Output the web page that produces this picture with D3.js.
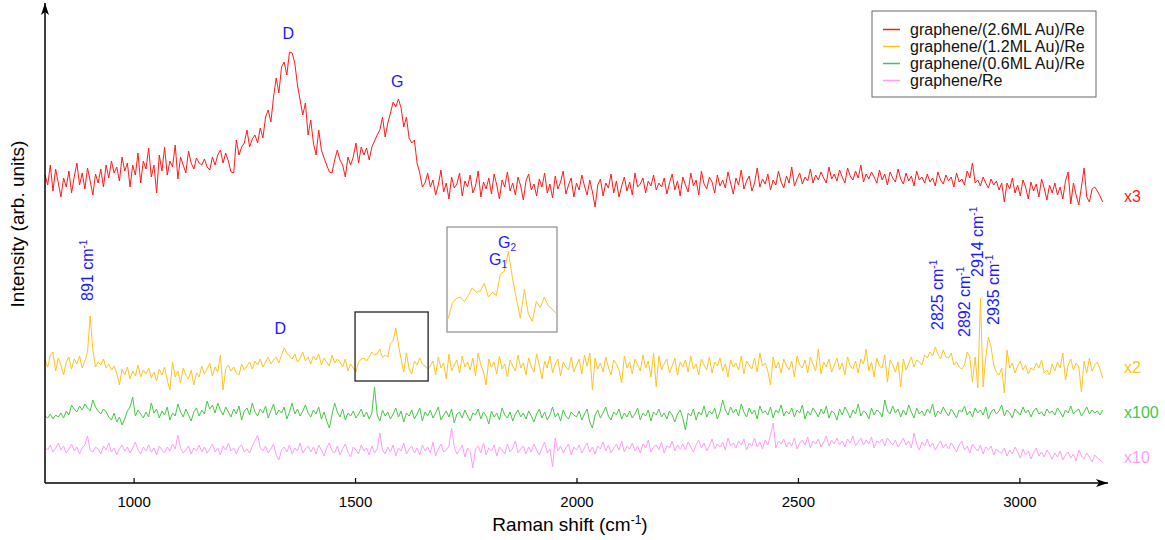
<!DOCTYPE html>
<html lang="en">
  <head>
    <meta charset="utf-8">
    <title>Raman spectra</title>
    <script src="https://d3js.org/d3.v7.min.js"></script>
    <style>
      body { margin: 0; background: #fff; }
      svg { font-family: "Liberation Sans", Arial, sans-serif; }
    </style>
  </head>
  <body>
    <script>
      // spectra sampled every 6 cm-1 starting at 800 cm-1 (stacked, arb. units)
      var shiftStart = 800;
      var shiftStep = 6;
      var xTicks = [1000, 1500, 2000, 2500, 3000];

      var seriesNames = ["graphene/(2.6ML Au)/Re", "graphene/(1.2ML Au)/Re", "graphene/(0.6ML Au)/Re", "graphene/Re"];
      var seriesFactors = ["x3", "x2", "x100", "x10"];
      var seriesColors = ["#ff1a1a", "#ffc320", "#45c845", "#ff9cf5"];

      var au26 = [
        308,298,318,292,314,300,286,305,296,312,290,306,320,298,310,294,315,302,288,309,
        300,314,296,318,305,322,310,316,302,326,312,320,296,318,308,330,300,322,314,335,
        306,318,290,328,312,336,308,322,316,338,304,326,318,310,332,320,314,325,320,318,
        324,316,313,326,318,328,333,320,330,322,311,310,343,328,336,340,353,336,344,348,
        340,355,345,366,373,361,386,405,390,416,421,408,431,430,420,398,383,368,380,348,
        363,340,328,353,333,325,318,311,310,323,333,323,318,306,326,318,326,340,320,336,
        328,335,323,336,342,348,353,366,346,360,370,381,376,384,375,356,366,345,340,343,
        320,310,296,300,310,296,303,288,298,313,291,300,284,306,295,299,310,287,302,296,
        308,290,297,312,286,301,294,305,289,309,298,284,303,296,311,292,300,288,306,297,
        283,302,309,293,299,287,304,296,310,290,299,285,307,294,301,312,289,298,305,286,
        300,293,308,297,288,303,291,276,298,304,287,300,295,309,290,302,286,297,306,292,
        301,288,310,296,299,305,290,302,297,308,293,300,296,305,289,300,309,293,302,287,
        306,298,291,310,297,303,288,312,299,294,306,301,290,308,297,303,295,311,300,289,
        305,298,313,294,302,307,292,300,315,296,304,299,309,293,303,298,312,301,295,307,
        300,316,297,304,310,299,306,302,314,300,308,303,311,305,300,316,304,309,302,313,
        306,300,315,307,303,312,305,318,301,309,304,311,306,300,313,303,309,298,311,305,
        301,314,304,299,310,302,307,297,312,303,306,300,309,301,305,297,311,303,299,308,
        302,306,296,310,301,304,298,312,305,320,300,303,297,306,300,295,304,298,302,293,
        300,281,300,294,305,290,298,287,303,296,284,301,292,299,286,304,295,283,298,290,
        300,288,296,284,302,311,279,300,288,278,296,315,286,281,294,296,292,287,281
      ];

      var au12 = [
        123,116,128,131,112,125,118,108,121,126,114,124,119,127,115,122,131,167,133,116,
        121,118,124,115,119,113,117,110,98,114,108,116,104,112,107,118,106,113,109,115,
        105,111,102,114,108,116,103,93,121,106,112,100,115,108,104,113,98,110,106,117,
        109,114,120,107,116,111,128,93,114,118,112,116,110,108,119,113,117,121,114,122,
        118,124,116,121,126,119,123,126,120,128,135,130,127,124,129,121,125,131,122,126,
        119,127,123,129,118,125,121,117,128,120,124,121,116,124,112,119,115,111,121,124,
        125,122,126,131,128,129,134,125,128,126,140,142,155,138,124,111,130,114,109,122,
        118,125,119,117,114,117,122,108,126,115,120,104,129,112,118,123,110,127,116,121,
        113,125,107,130,118,111,98,124,116,121,109,127,114,119,106,123,117,112,128,115,
        120,108,125,116,111,129,118,104,122,115,127,110,119,124,107,121,116,113,126,111,
        118,124,109,128,117,130,93,125,114,120,111,126,116,108,123,119,113,100,127,115,
        121,109,124,118,112,128,115,122,106,130,96,127,113,119,124,110,117,125,108,121,
        116,123,111,127,114,119,108,124,118,113,126,110,121,117,125,112,119,106,123,116,
        120,113,127,109,122,118,114,125,111,130,117,120,112,98,126,115,121,110,124,117,
        113,122,106,127,118,115,123,110,126,119,112,134,109,121,116,124,111,118,125,113,
        120,108,126,117,114,122,110,124,119,134,112,121,106,125,117,115,128,101,123,118,
        111,121,96,124,113,119,126,116,123,121,118,128,125,131,127,136,129,124,133,126,
        125,130,118,121,116,114,118,131,126,101,126,95,185,96,126,146,136,118,111,108,
        115,90,133,115,120,110,117,122,113,118,109,115,113,120,115,123,110,113,108,119,
        112,121,115,130,103,118,124,113,120,116,91,122,110,125,112,118,121,114,105
      ];

      var au06 = [
        67,65,69,64,68,66,70,65,72,68,78,74,71,77,73,79,75,72,83,76,
        72,69,74,71,66,63,70,61,66,58,64,72,76,86,67,73,69,65,71,66,
        80,70,74,65,72,68,76,63,70,67,79,71,66,74,68,62,71,75,67,73,
        69,82,74,78,70,80,73,68,76,71,66,74,69,77,63,72,75,68,80,71,
        67,74,70,77,65,72,79,68,73,70,76,64,71,80,69,74,67,72,78,70,
        66,73,69,76,64,71,62,55,68,80,71,66,74,63,70,67,72,65,69,74,
        66,71,64,70,96,68,62,73,67,71,64,69,75,66,72,61,70,67,73,64,
        69,75,62,71,67,73,65,70,76,63,68,72,66,74,60,69,71,65,73,67,
        62,70,68,74,64,71,67,59,72,66,70,63,75,68,65,71,62,69,73,66,
        70,64,72,67,61,69,74,65,71,63,68,76,66,70,62,73,67,64,71,68,
        66,72,63,69,74,61,55,68,73,65,70,76,67,63,71,68,74,64,70,66,
        72,65,69,75,63,70,67,73,62,71,68,74,66,70,64,72,68,61,69,73,
        65,53,70,67,74,63,71,68,77,66,72,69,75,64,71,83,73,68,76,70,
        74,67,79,71,66,75,69,73,64,77,70,72,68,76,65,73,70,78,67,72,
        69,75,66,73,70,78,64,72,68,75,71,66,74,69,77,65,72,70,63,74,
        68,76,71,65,73,69,79,67,72,70,64,75,68,73,71,66,83,72,69,77,
        70,74,66,73,68,78,71,65,75,69,72,67,74,70,79,66,72,69,76,71,
        67,74,70,65,73,71,77,68,72,66,75,70,73,68,76,64,71,74,69,72,
        78,67,73,70,65,74,71,68,76,70,73,66,72,75,69,71,67,74,70,72,
        68,75,71,66,73,70,77,69,72,74,67,71,76,69,73,70,72,68,73
      ];

      var bare = [
        36,33,38,31,35,40,33,37,30,34,39,32,36,29,35,38,47,33,31,36,
        34,29,37,33,40,31,35,28,34,38,32,36,30,35,41,33,29,36,32,38,
        31,35,28,37,33,30,36,32,39,34,48,35,30,33,37,29,35,32,38,31,
        36,30,34,39,31,35,28,37,33,40,32,35,29,36,38,31,34,30,37,42,
        48,35,32,37,30,34,39,28,23,33,36,31,38,29,35,32,40,30,34,37,
        31,36,29,38,33,27,35,40,32,30,37,28,34,39,31,26,36,33,29,38,
        32,35,28,37,30,34,50,33,29,36,31,38,27,35,32,40,29,34,37,30,
        35,28,38,32,36,30,41,27,34,39,31,33,37,55,36,29,33,38,26,35,
        31,15,34,37,30,40,28,35,32,38,27,36,33,29,39,31,35,42,30,34,
        37,29,36,31,39,33,28,35,41,30,34,16,45,32,37,30,35,39,28,36,
        33,38,30,35,40,31,36,29,37,34,41,32,38,30,35,39,33,42,31,37,
        34,40,32,37,30,39,35,43,31,36,38,33,41,30,37,35,42,32,38,34,
        39,33,41,36,31,38,43,35,40,32,37,44,34,39,36,41,33,45,37,40,
        35,42,38,44,33,40,37,45,36,41,34,43,38,48,60,35,42,39,44,36,
        41,37,45,34,40,43,38,46,35,42,39,44,36,41,47,37,43,39,45,38,
        42,36,44,40,47,37,41,45,38,43,39,46,35,42,40,44,37,45,41,38,
        43,36,40,45,38,42,35,50,39,33,41,37,44,36,40,33,38,42,35,39,
        34,40,36,31,38,42,33,37,30,39,35,32,38,29,36,33,37,28,34,31,
        30,35,27,33,29,36,31,25,34,28,32,24,30,35,27,31,26,33,29,24,
        30,26,32,23,28,31,25,29,22,33,27,24,30,26,21,28,25,23,20
      ];

      var allSeries = [au26, au12, au06, bare];

      var w = 1165;
      var h = 540;

      var x = d3.scaleLinear().domain([800, 3200]).range([45, 1108]);
      var y = d3.scaleLinear().domain([0, 480]).range([483, 3]);

      function toPoints(vals) {
        return vals.map(function(v, i) { return [shiftStart + i * shiftStep, v]; });
      }

      var svg = d3.select("body")
                  .append("svg")
                  .attr("width", w)
                  .attr("height", h);

      var defs = svg.append("defs");
      defs.append("marker")
          .attr("id", "arrow")
          .attr("viewBox", "0 0 12 8")
          .attr("refX", 12)
          .attr("refY", 4)
          .attr("markerWidth", 12)
          .attr("markerHeight", 8)
          .attr("markerUnits", "userSpaceOnUse")
          .attr("orient", "auto")
        .append("path")
          .attr("d", "M0,0 L12,4 L0,8 L3,4 Z")
          .attr("fill", "#000");

      defs.append("clipPath")
          .attr("id", "insetClip")
        .append("rect")
          .attr("x", 447).attr("y", 227)
          .attr("width", 110).attr("height", 105);

      var line = d3.line()
                   .x(function(d) { return x(d[0]); })
                   .y(function(d) { return y(d[1]); });

      // spectra
      svg.selectAll("path.spec")
         .data(allSeries)
         .enter()
         .append("path")
           .attr("class", "spec")
           .attr("d", function(d) { return line(toPoints(d)); })
           .attr("fill", "none")
           .attr("stroke", function(d, i) { return seriesColors[i]; })
           .attr("stroke-width", 1);

      // x axis
      var xAxis = d3.axisBottom(x)
                    .tickValues(xTicks)
                    .tickFormat(d3.format("d"))
                    .tickSizeInner(-5)
                    .tickSizeOuter(0)
                    .tickPadding(13);
      var gx = svg.append("g")
                  .attr("transform", "translate(0," + y(0) + ")")
                  .call(xAxis);
      gx.select(".domain").remove();
      gx.selectAll("line").attr("stroke", "#000").attr("stroke-width", 1.2);
      gx.selectAll("text")
        .attr("font-family", "Liberation Sans, Arial, sans-serif")
        .attr("font-size", 15)
        .attr("fill", "#000");

      svg.append("line")
         .attr("x1", x(800)).attr("y1", y(0))
         .attr("x2", x(3200)).attr("y2", y(0))
         .attr("stroke", "#000").attr("stroke-width", 1.5)
         .attr("marker-end", "url(#arrow)");
      svg.append("line")
         .attr("x1", x(800)).attr("y1", y(0))
         .attr("x2", x(800)).attr("y2", y(480))
         .attr("stroke", "#000").attr("stroke-width", 1.5)
         .attr("marker-end", "url(#arrow)");

      // axis titles
      var xt = svg.append("text")
         .attr("x", 570).attr("y", 531)
         .attr("text-anchor", "middle")
         .attr("font-size", 19)
         .text("Raman shift (cm");
      xt.append("tspan").attr("dy", -7).attr("font-size", 12).text("-1");
      xt.append("tspan").attr("dy", 7).text(")");

      svg.append("text")
         .attr("transform", "translate(24,224) rotate(-90)")
         .attr("text-anchor", "middle")
         .attr("font-size", 19)
         .text("Intensity (arb. units)");

      // peak letters
      var blue = "#1a1aff";
      var letters = [
        {t: "D", c: 1349, v: 444},
        {t: "G", c: 1595, v: 396},
        {t: "D", c: 1331, v: 149}
      ];
      svg.selectAll("text.letter")
         .data(letters)
         .enter()
         .append("text")
           .attr("class", "letter")
           .attr("x", function(d) { return x(d.c); })
           .attr("y", function(d) { return y(d.v); })
           .attr("text-anchor", "middle")
           .attr("font-size", 16)
           .attr("fill", blue)
           .text(function(d) { return d.t; });

      // rotated wavenumber notes
      var notes = [
        {t: "891", c: 908, v: 182},
        {t: "2825", c: 2827, v: 153},
        {t: "2892", c: 2888, v: 146},
        {t: "2914", c: 2918, v: 206},
        {t: "2935", c: 2954, v: 158}
      ];
      var nt = svg.selectAll("text.note")
         .data(notes)
         .enter()
         .append("text")
           .attr("class", "note")
           .attr("transform", function(d) { return "translate(" + x(d.c) + "," + y(d.v) + ") rotate(-90)"; })
           .attr("font-size", 16)
           .attr("fill", blue)
           .text(function(d) { return d.t + " cm"; });
      nt.append("tspan").attr("dy", -6).attr("font-size", 10).text("-1");

      // zoom box and inset
      var boxC = [1500, 1665];
      var boxV = [102, 171];
      svg.append("rect")
         .attr("x", x(boxC[0])).attr("y", y(boxV[1]))
         .attr("width", x(boxC[1]) - x(boxC[0]))
         .attr("height", y(boxV[0]) - y(boxV[1]))
         .attr("fill", "none")
         .attr("stroke", "#222")
         .attr("stroke-width", 1.3);

      var xi = d3.scaleLinear().domain(boxC).range([447, 557]);
      var yi = d3.scaleLinear().domain(boxV).range([332, 227]);
      svg.append("rect")
         .attr("x", 447).attr("y", 227)
         .attr("width", 110).attr("height", 105)
         .attr("fill", "#fff")
         .attr("stroke", "#8c8c8c")
         .attr("stroke-width", 1.2);
      var insetPts = toPoints(au12).filter(function(d) { return d[0] >= 1490 && d[0] <= 1675; });
      svg.append("path")
         .attr("clip-path", "url(#insetClip)")
         .attr("d", d3.line().x(function(d) { return xi(d[0]); }).y(function(d) { return yi(d[1]); })(insetPts))
         .attr("fill", "none")
         .attr("stroke", seriesColors[1])
         .attr("stroke-width", 1);

      var g1 = svg.append("text").attr("x", 489).attr("y", 265)
         .attr("font-size", 16).attr("fill", blue).text("G");
      g1.append("tspan").attr("dy", 3).attr("font-size", 10).text("1");
      var g2 = svg.append("text").attr("x", 498).attr("y", 248)
         .attr("font-size", 16).attr("fill", blue).text("G");
      g2.append("tspan").attr("dy", 3).attr("font-size", 10).text("2");

      // multiplication factors
      var factorV = [281, 110, 65, 20];
      svg.selectAll("text.factor")
         .data(seriesFactors)
         .enter()
         .append("text")
           .attr("class", "factor")
           .attr("x", 1124)
           .attr("y", function(d, i) { return y(factorV[i]); })
           .attr("font-size", 16)
           .attr("fill", function(d, i) { return seriesColors[i]; })
           .text(function(d) { return d; });

      // legend
      var lg = svg.append("g");
      lg.append("rect")
        .attr("x", 872).attr("y", 11)
        .attr("width", 224).attr("height", 86)
        .attr("fill", "#fff")
        .attr("stroke", "#666")
        .attr("stroke-width", 1);
      var items = lg.selectAll("g.item")
        .data(seriesNames)
        .enter()
        .append("g")
          .attr("transform", function(d, i) { return "translate(0," + (29.5 + i * 17) + ")"; });
      items.append("line")
        .attr("x1", 883).attr("x2", 900)
        .attr("stroke", function(d, i) { return seriesColors[i]; })
        .attr("stroke-width", 1.5);
      items.append("text")
        .attr("x", 910).attr("y", 5.5)
        .attr("font-size", 16)
        .attr("fill", "#111")
        .text(function(d) { return d; });
    </script>
  </body>
</html>
